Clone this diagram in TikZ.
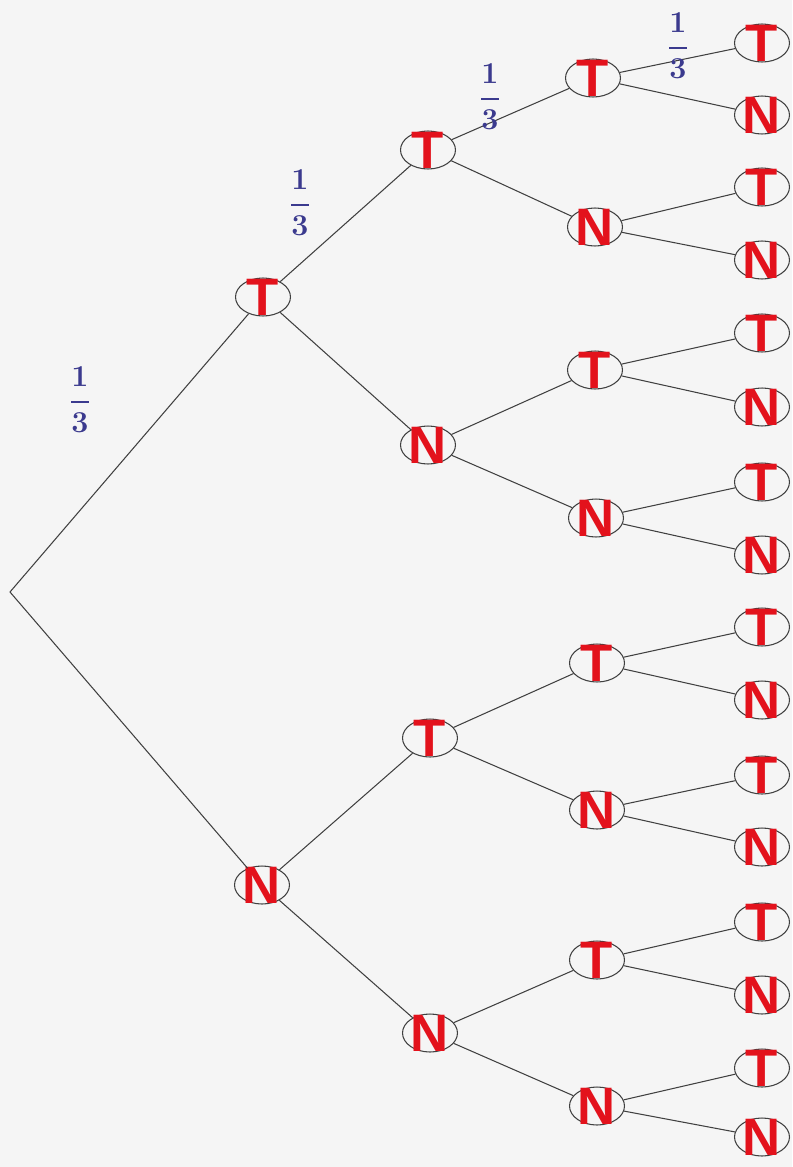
\documentclass[tikz,border=0pt]{standalone}
\usepackage{fontspec}
\setmainfont{Liberation Sans}
\usepackage{amsmath}
\usetikzlibrary{shapes.geometric}
\usepackage{xcolor}
\definecolor{markred}{HTML}{E3121C}
\definecolor{penblue}{HTML}{3B3A8E}
\newcommand{\third}{$\genfrac{}{}{1.6pt}{0}{1}{3}$}

\begin{document}
\begin{tikzpicture}[
            x=0.02cm, y=-0.02cm,
            letter/.style={text=markred, inner sep=0pt, font=\fontsize{30}{30}\selectfont\bfseries},
            result/.style={ellipse, draw=black!75, line width=0.6pt, minimum width=1.1cm, minimum height=0.76cm, inner sep=0pt, label={[letter]center:#1}},
            prob/.style={text=penblue, inner sep=0pt, font=\fontsize{17}{17}\selectfont\boldmath},
            branch/.style={draw=black!75, line width=0.6pt}
        ]
            % background sheet
            \fill[black!4] (0,0) rectangle (792,1167);
            \useasboundingbox (0,0) rectangle (792,1167);

            % --- ROOT ---
            \coordinate (root) at (10,592);

            % --- FIRST DRAW ---
            \node[result=T] (t) at (263,297) {};
            \node[result=N] (n) at (262,885) {};

            % --- SECOND DRAW ---
            \node[result=T] (tt) at (428,150) {};
            \node[result=N] (tn) at (428,445) {};
            \node[result=T] (nt) at (430,738) {};
            \node[result=N] (nn) at (430,1033) {};

            % --- THIRD DRAW ---
            \node[result=T] (ttt) at (593,78) {};
            \node[result=N] (ttn) at (595,227) {};
            \node[result=T] (tnt) at (595,370) {};
            \node[result=N] (tnn) at (596,518) {};
            \node[result=T] (ntt) at (597,663) {};
            \node[result=N] (ntn) at (597,810) {};
            \node[result=T] (nnt) at (597,960) {};
            \node[result=N] (nnn) at (597,1106) {};

            % --- FOURTH DRAW ---
            \node[result=T] (tttt) at (762,43) {};
            \node[result=N] (tttn) at (762,115) {};
            \node[result=T] (ttnt) at (762,187) {};
            \node[result=N] (ttnn) at (762,260) {};
            \node[result=T] (tntt) at (762,333) {};
            \node[result=N] (tntn) at (762,407) {};
            \node[result=T] (tnnt) at (762,482) {};
            \node[result=N] (tnnn) at (762,555) {};
            \node[result=T] (nttt) at (762,627) {};
            \node[result=N] (nttn) at (762,700) {};
            \node[result=T] (ntnt) at (762,775) {};
            \node[result=N] (ntnn) at (762,847) {};
            \node[result=T] (nntt) at (762,922) {};
            \node[result=N] (nntn) at (762,995) {};
            \node[result=T] (nnnt) at (762,1068) {};
            \node[result=N] (nnnn) at (762,1137) {};

            % branches
            \draw[branch] (root) -- (t);
            \draw[branch] (root) -- (n);
            \draw[branch] (t) -- (tt);    \draw[branch] (t) -- (tn);
            \draw[branch] (n) -- (nt);    \draw[branch] (n) -- (nn);
            \draw[branch] (tt) -- (ttt);  \draw[branch] (tt) -- (ttn);
            \draw[branch] (tn) -- (tnt);  \draw[branch] (tn) -- (tnn);
            \draw[branch] (nt) -- (ntt);  \draw[branch] (nt) -- (ntn);
            \draw[branch] (nn) -- (nnt);  \draw[branch] (nn) -- (nnn);
            \draw[branch] (ttt) -- (tttt); \draw[branch] (ttt) -- (tttn);
            \draw[branch] (ttn) -- (ttnt); \draw[branch] (ttn) -- (ttnn);
            \draw[branch] (tnt) -- (tntt); \draw[branch] (tnt) -- (tntn);
            \draw[branch] (tnn) -- (tnnt); \draw[branch] (tnn) -- (tnnn);
            \draw[branch] (ntt) -- (nttt); \draw[branch] (ntt) -- (nttn);
            \draw[branch] (ntn) -- (ntnt); \draw[branch] (ntn) -- (ntnn);
            \draw[branch] (nnt) -- (nntt); \draw[branch] (nnt) -- (nntn);
            \draw[branch] (nnn) -- (nnnt); \draw[branch] (nnn) -- (nnnn);

            % probabilities along the upper path
            \node[prob] (p1) at (80,400) {\third};
            \node[prob] (p2) at (300,203) {\third};
            \node[prob] (p3) at (490,97) {\third};
            \node[prob] (p4) at (678,46) {\third};

        \end{tikzpicture}
\end{document}
